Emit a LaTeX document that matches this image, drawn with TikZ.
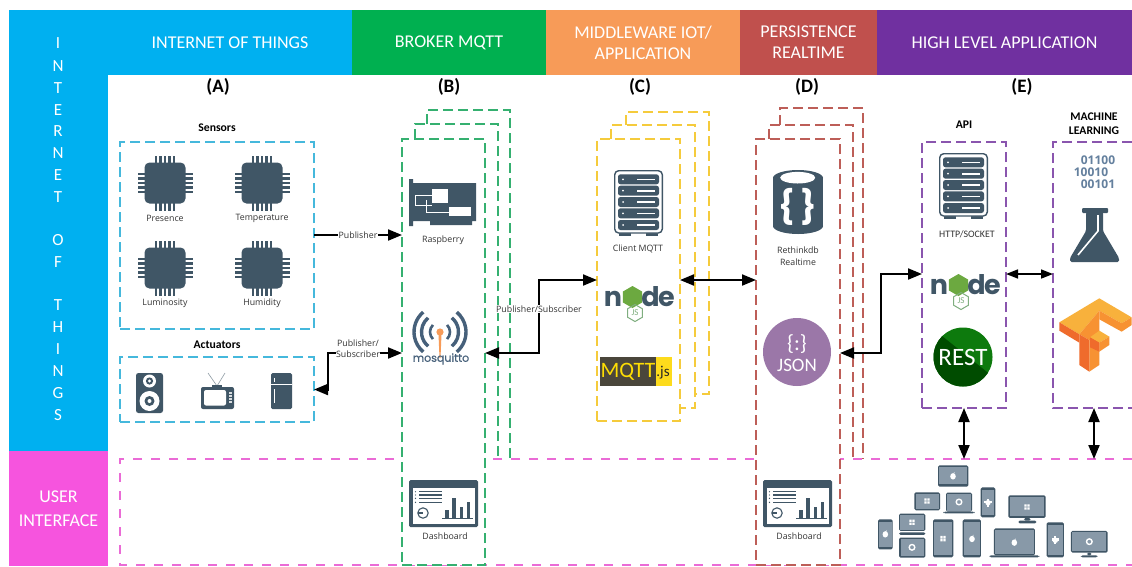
\documentclass[tikz,border=0pt]{standalone}
\usepackage{fontspec}
\setmainfont{Carlito}
\newfontfamily\lblfont{Open Sans}
\newfontfamily\mosfont{Poppins}
\usetikzlibrary{arrows.meta,calc,shapes.geometric}
\definecolor{iot}{HTML}{00B0F0}
\definecolor{ui}{HTML}{F654DE}
\definecolor{brk}{HTML}{00B050}
\definecolor{mid}{HTML}{F79B58}
\definecolor{per}{HTML}{C0504D}
\definecolor{hig}{HTML}{7030A0}
\definecolor{ink}{HTML}{405666}
\definecolor{scr}{HTML}{8899A8}
\definecolor{dIot}{HTML}{45B8DC}
\definecolor{dBrk}{HTML}{35B070}
\definecolor{dYel}{HTML}{F5CB3C}
\definecolor{dRed}{HTML}{BD5E58}
\definecolor{dPur}{HTML}{8A55AE}
\definecolor{dPnk}{HTML}{EA6BD6}
\definecolor{mosc}{HTML}{46607A}
\definecolor{binc}{HTML}{64809E}
\definecolor{jsonc}{HTML}{9B77A8}
\definecolor{tfA}{HTML}{F8B13C}
\definecolor{tfB}{HTML}{F79232}
\definecolor{tfC}{HTML}{EF6B2C}
\definecolor{nodeg}{HTML}{6CA940}
\definecolor{nodej}{HTML}{7FAE7F}
\tikzset{
  band/.style={fill=#1,draw=none,inner sep=0pt,outer sep=0pt,text=white,align=center,font=\fontsize{18}{21}\selectfont},
  dashbox/.style={draw=#1,fill=white,line width=1.2pt,dash pattern=on 10pt off 5pt,inner sep=0pt,outer sep=0pt,anchor=north west},
  stackline/.style={draw=#1,line width=1.2pt,dash pattern=on 10pt off 5pt},
  lbl/.style={font=\lblfont\fontsize{8.8}{11.5}\selectfont,text=black!80,inner sep=0pt,align=center},
  tagged/.style={lbl,fill=white,inner sep=0.6pt},
  title/.style={font=\bfseries\fontsize{11.7}{14}\selectfont,inner sep=0pt,align=center},
  letter/.style={font=\bfseries\fontsize{19}{20}\selectfont,inner sep=0pt},
  vchar/.style={text=white,font=\fontsize{17}{18}\selectfont,inner sep=0pt},
  oneway/.style={line width=2pt,-{Triangle[length=14pt,width=11pt]}},
  twoway/.style={line width=2pt,{Triangle[length=14pt,width=11pt]}-{Triangle[length=14pt,width=11pt]}},
  thinway/.style={line width=1.6pt,{Triangle[length=12pt,width=9pt]}-{Triangle[length=12pt,width=9pt]}},
}
\newcommand{\chipicon}[2]{\begin{scope}[shift={(#1,#2)}]
  \foreach \k in {-2,...,2}{
    \fill[ink] (\k*4.4-1.2,-27.5) rectangle (\k*4.4+1.2,-19);
    \fill[ink] (\k*4.4-1.2,19) rectangle (\k*4.4+1.2,27.5);
    \fill[ink] (-27.5,\k*4.4-1.2) rectangle (-19,\k*4.4+1.2);
    \fill[ink] (19,\k*4.4-1.2) rectangle (27.5,\k*4.4+1.2);
  }
  \fill[ink,rounded corners=5pt] (-20.5,-20.5) rectangle (20.5,20.5);
\end{scope}}
\newcommand{\servericon}[2]{\begin{scope}[shift={(#1,#2)}]
  \fill[ink] (5,62) rectangle (17,65.5);
  \fill[ink] (32,62) rectangle (44,65.5);
  \draw[ink,fill=white,line width=1.4pt,rounded corners=4pt] (0.7,0.7) rectangle (48.3,63);
  \foreach \c in {9.3,20.7,32,43.3,55}{
    \fill[ink,rounded corners=2.5pt] (4,\c-5) rectangle (45,\c+5);
    \fill[white] (9,\c) circle (1pt);
    \fill[white] (23,\c-0.8) rectangle (41,\c+0.8);
  }
\end{scope}}
\newcommand{\dashicon}[2]{\begin{scope}[shift={(#1,#2)}]
  \fill[ink,rounded corners=1.5pt] (0,0) rectangle (69,47);
  \fill[white] (3.5,7.5) rectangle (65.5,43.5);
  \foreach \c in {11.7,15,18.3,22.3}{
    \fill[ink] (6.5,\c) circle (0.7pt);
    \fill[ink] (10,\c-0.7) rectangle (33,\c+0.7);
  }
  \draw[ink,line width=1.1pt] (14,33) circle (5.2pt);
  \draw[ink,line width=1.1pt] (9,33) -- (14,33);
  \fill[ink] (36,30) rectangle (39.5,38.5);
  \fill[ink] (43.3,17.7) rectangle (46.6,38.5);
  \fill[ink] (50.6,27) rectangle (54,38.5);
  \fill[ink] (58,22.3) rectangle (61.3,38.5);
  \fill[ink] (33,38.3) rectangle (63.5,39.3);
\end{scope}}
\newcommand{\nodelogo}[3]{\begin{scope}[shift={(#1,#2)}]
  \node[inner sep=0pt,text=ink,font=\mosfont\bfseries\fontsize{27}{27}\selectfont,anchor=base] (#3n) at (-25,9) {n};
  \node[regular polygon,regular polygon sides=6,rotate=30,fill=nodeg,inner sep=0pt,minimum size=22pt] (#3o) at (-5.5,0) {};
  \node[inner sep=0pt,text=ink,font=\mosfont\bfseries\fontsize{27}{27}\selectfont,anchor=base] (#3d) at (12.5,9) {d};
  \node[inner sep=0pt,text=ink,font=\mosfont\bfseries\fontsize{27}{27}\selectfont,anchor=base] (#3e) at (28.5,9) {e};
  \node[regular polygon,regular polygon sides=6,rotate=30,draw=nodej,line width=1pt,inner sep=0pt,minimum size=17pt] (#3h) at (-3,16) {};
  \node[inner sep=0pt,text=nodej,font=\fontsize{9}{9}\selectfont] (#3j) at (-3,16) {JS};
\end{scope}}
\newcommand{\devbody}[4]{\fill[ink,rounded corners=1.5pt] (#1,#2) rectangle (#3,#4);}
\newcommand{\devscreen}[4]{\fill[scr] (#1,#2) rectangle (#3,#4);}
\newcommand{\winmark}[2]{\fill[white] (#1-8,#2-8) rectangle (#1-1,#2-1) (#1+1,#2-8) rectangle (#1+8,#2-1) (#1-8,#2+1) rectangle (#1-1,#2+8) (#1+1,#2+1) rectangle (#1+8,#2+8);}
\newcommand{\aplmark}[2]{\fill[white] (#1,#2+1) ellipse [x radius=2.8pt,y radius=3.2pt]; \fill[white] (#1+1,#2-8) -- (#1+5,#2-12) -- (#1+3,#2-7) -- cycle;}
\newcommand{\ringmark}[2]{\draw[white,line width=1.4pt] (#1,#2) circle (2.8pt);}
\newcommand{\drdmark}[2]{\fill[white,rounded corners=1pt] (#1-7,#2-6) rectangle (#1+7,#2+8); \fill[white] (#1-11,#2-5) rectangle (#1+11,#2+3); \fill[white] (#1-3,#2-11) rectangle (#1+3,#2+13);}
\begin{document}
\begin{tikzpicture}[x=1pt,y=-1pt]
\useasboundingbox (0,0) rectangle (1132,566);
\fill[white] (0,0) rectangle (1132,566);
% header bands
\node[band=iot,minimum width=99pt,minimum height=441pt,anchor=north west] (leftIot) at (9,10) {};
\node[band=ui,minimum width=99pt,minimum height=115pt,anchor=north west] (leftUi) at (9,451) {USER\\[3pt]INTERFACE};
\node[band=iot,minimum width=244pt,minimum height=65pt,anchor=north west] (hA) at (108,10) {INTERNET OF THINGS};
\node[band=brk,minimum width=194pt,minimum height=65pt,anchor=north west] (hB) at (352,10) {BROKER MQTT};
\node[band=mid,minimum width=194pt,minimum height=65pt,anchor=north west] (hC) at (546,10) {MIDDLEWARE IOT/\\APPLICATION};
\node[band=per,minimum width=137pt,minimum height=65pt,anchor=north west] (hD) at (740,10) {PERSISTENCE\\REALTIME};
\node[band=hig,minimum width=255pt,minimum height=65pt,anchor=north west] (hE) at (877,10) {HIGH LEVEL APPLICATION};
% vertical text
\foreach \ch/\yy/\nm in {I/43/a,N/66/b,T/88/c,E/110/d,R/131/e,N/153/f,E/175/g,T/197/h,O/240/i,F/262/j,T/305/k,H/327/l,I/349/m,N/371/n,G/393/o,S/415/p}
  \node[vchar] (v\nm) at (58,\yy) {\ch};
% column letters
\node[letter] (colA) at (218,87) {(A)};
\node[letter] (colB) at (449,87) {(B)};
\node[letter] (colC) at (640,87) {(C)};
\node[letter] (colD) at (807,87) {(D)};
\node[letter] (colE) at (1022,87) {(E)};
% user interface frame
\coordinate (uiTL) at (120,459);
\coordinate (uiBL) at (120,565);
\draw[stackline=dPnk,dash pattern=on 9pt off 9pt] (1132,459) -- (uiTL) -- (uiBL) -- (1132,565);
% back sheets
\draw[stackline=dBrk] (415,139) -- (415,124) -- (498,124) -- (498,459);
\draw[stackline=dBrk] (427,124) -- (427,110) -- (510,110) -- (510,459);
\draw[stackline=dYel] (611,139) -- (611,125) -- (695,125) -- (695,408) -- (680,408);
\draw[stackline=dYel] (626,125) -- (626,112) -- (709,112) -- (709,394) -- (695,394);
\draw[stackline=dRed] (769,139) -- (769,125) -- (853,125) -- (853,459);
\draw[stackline=dRed] (780,125) -- (780,108) -- (863,108) -- (863,459);
% front frames
\node[dashbox=dIot,minimum width=194pt,minimum height=187pt] (sensors) at (120,142) {};
\node[dashbox=dIot,minimum width=194pt,minimum height=65pt] (actuators) at (120,357) {};
\node[dashbox=dBrk,minimum width=83pt,minimum height=426pt] (broker) at (402,139) {};
\node[dashbox=dYel,minimum width=83pt,minimum height=282pt] (middle) at (597,139) {};
\node[dashbox=dRed,minimum width=84pt,minimum height=426pt] (persist) at (756,139) {};
\node[dashbox=dPur,minimum width=84pt,minimum height=266pt] (api) at (922,142) {};
\node[inner sep=0pt,outer sep=0pt,anchor=north west,minimum width=79pt,minimum height=266pt] (ml) at (1053,142) {};
\draw[stackline=dPur] (ml.north east) -- (ml.north west) -- (ml.south west) -- (ml.south east);
% titles
\node[title] (tSens) at (217,128) {Sensors};
\node[title] (tAct) at (217,345) {Actuators};
\node[title] (tApi) at (964,125) {API};
\node[title] (tMl) at (1094,124) {MACHINE\\LEARNING};
% chips
\chipicon{165}{183}\chipicon{262}{183}\chipicon{165}{268}\chipicon{262}{268}
\node[lbl] (lPres) at (165,218.5) {Presence};
\node[lbl] (lTemp) at (262,218.5) {Temperature};
\node[lbl] (lLum) at (165,303.5) {Luminosity};
\node[lbl] (lHum) at (262,303.5) {Humidity};
% speaker
\fill[ink,rounded corners=2.5pt] (136,373) rectangle (163,413);
\fill[white] (149.5,381) circle (6.5pt); \fill[ink] (149.5,381) circle (3.6pt); \fill[white] (149.5,381) circle (1.6pt);
\fill[white] (149.5,401) circle (10pt); \fill[ink] (149.5,401) circle (5pt); \fill[white] (149.5,401) circle (2pt);
% tv
\draw[ink!60,line width=0.6pt] (217,386) -- (208,373) (217,386) -- (225,373);
\fill[ink] (212,385) rectangle (222,388);
\fill[ink,rounded corners=2pt] (201,387) rectangle (234,409);
\fill[white,rounded corners=2pt] (204,390) rectangle (226,405.5);
\foreach \c in {393,396,399,402} \fill[white!80!ink] (228.5,\c-1) rectangle (231.5,\c+1);
% fridge
\fill[ink,rounded corners=1.5pt] (271,373) rectangle (292,409);
\fill[white] (271,383.5) rectangle (292,384.5);
\fill[white] (273.5,378) rectangle (275,382);
\fill[white] (273.5,389) rectangle (275,403);
% raspberry card
\fill[ink] (409,179) -- (413,179) -- (413,183) -- (476,183) -- (476,221) -- (472,221) -- (472,225) -- (430,225) -- (430,221) -- (413,221) -- (413,226) -- (409,226) -- cycle;
\fill[white] (432,189) rectangle (448,203);
\fill[white] (449,207) rectangle (471,216);
\draw[white,line width=0.8pt] (415,195) -- (432,195) (415,195) -- (415,205) -- (432,205) (426,200) -- (426,212) -- (449,212);
\node[lbl] (lRasp) at (443,240) {Raspberry};
% mosquitto
\begin{scope}[shift={(440,332)}]
  \foreach \r in {26,18.5}{
    \draw[mosc,line width=3.4pt] ([shift={(130:\r pt)}]0,0) arc[start angle=130,end angle=230,radius=\r pt];
    \draw[mosc,line width=3.4pt] ([shift={(-50:\r pt)}]0,0) arc[start angle=-50,end angle=50,radius=\r pt];
  }
  \draw[mosc,line width=2.6pt] ([shift={(135:10pt)}]0,0) arc[start angle=135,end angle=225,radius=10pt];
  \draw[mosc,line width=2.6pt] ([shift={(-45:10pt)}]0,0) arc[start angle=-45,end angle=45,radius=10pt];
  \fill[mid] (-1.6,0) -- (1.6,0) -- (0.5,26) -- (-0.5,26) -- cycle;
  \fill[mid] (0,0) circle (3.6pt);
\end{scope}
\node[inner sep=0pt,text=mosc,font=\mosfont\fontsize{11}{12}\selectfont] (lMos) at (441,359) {\addfontfeature{FakeBold=0.6}mosquitto};
% dashboards
\dashicon{409}{480}\dashicon{763}{480}
\node[lbl] (lDash1) at (445,536) {Dashboard};
\node[lbl] (lDash2) at (799,536) {Dashboard};
% client mqtt
\servericon{614}{170}
\node[lbl] (lClient) at (638,249) {Client MQTT};
\nodelogo{638}{297}{nA}
\fill[black!82!yellow] (600,357) rectangle (656,386);
\fill[yellow!75!orange!90!white] (656,357) rectangle (672,386);
\node[inner sep=0pt,text=yellow!80!orange,font=\fontsize{22}{22}\selectfont,anchor=center] (mqttA) at (628,372) {MQTT};
\node[inner sep=0pt,text=black!85,font=\fontsize{15}{15}\selectfont,anchor=center] (mqttB) at (663,373) {.js};
% database
\fill[ink] (798,178) ellipse [x radius=25pt,y radius=8pt];
\fill[ink] (798,226) ellipse [x radius=25pt,y radius=8pt];
\fill[ink] (773,178) rectangle (823,226);
\fill[white] (797.7,177.7) ellipse [x radius=17.5pt,y radius=5.8pt];
\node[inner sep=0pt,text=white,font=\mosfont\bfseries\fontsize{33}{33}\selectfont] (lBr) at (798,207) {\{\,\}};
\node[lbl] (lDb) at (798,256) {Rethinkdb\\Realtime};
% json
\fill[jsonc] (797,352) circle (34pt);
\node[inner sep=0pt,text=white,font=\fontsize{22}{22}\selectfont] (lBrace) at (797,344) {\{:\}};
\node[inner sep=0pt,text=white,font=\fontsize{19}{19}\selectfont] (lJson) at (797,365) {JSON};
% api column
\servericon{939}{153}
\node[lbl,font=\fontsize{9.9}{11}\selectfont] (lHttp) at (967,234) {HTTP/SOCKET};
\nodelogo{964}{285}{nB}
\begin{scope}
  \clip (963,357) circle (29.5pt);
  \fill[green!45!black!95!white] (930,325) rectangle (995,390);
  \fill[green!30!black] (930,325) -- (942,336) -- (992,376) -- (992,392) -- (930,392) -- cycle;
\end{scope}
\node[inner sep=0pt,text=white,font=\fontsize{25}{25}\selectfont] (lRest) at (963,357) {REST};
% machine learning column
\node[inner sep=0pt,font=\lblfont\bfseries\fontsize{12}{12}\selectfont,text=binc] (b1) at (1098,160) {01100};
\node[inner sep=0pt,font=\lblfont\bfseries\fontsize{12}{12}\selectfont,text=binc] (b2) at (1091,172) {10010};
\node[inner sep=0pt,font=\lblfont\bfseries\fontsize{12}{12}\selectfont,text=binc] (b3) at (1098,184) {00101};
% flask
\fill[ink,rounded corners=1pt] (1082,208) rectangle (1108,213);
\fill[ink,rounded corners=1.5pt] (1086,212) -- (1103,212) -- (1103,231) -- (1119,258) -- (1119,262) -- (1070,262) -- (1070,258) -- (1086,231) -- cycle;
\draw[white,line width=1.6pt] (1098,215) -- (1098,231) -- (1078,255);
% tensorflow
\begin{scope}[shift={(1050,290)},x=0.3333pt,y=-0.3333pt]
  \fill[tfA] (28,97) -- (148,25) -- (245,82) -- (215,100) -- (148,62) -- (88,133) -- cycle;
  \fill[tfB] (148,62) -- (215,100) -- (245,82) -- (245,105) -- (215,125) -- (148,88) -- cycle;
  \fill[tfC] (28,97) -- (28,122) -- (88,158) -- (88,133) -- cycle;
  \fill[tfB] (88,133) -- (148,62) -- (148,225) -- (118,245) -- (118,150) -- cycle;
  \fill[tfC] (88,133) -- (88,225) -- (118,245) -- (118,150) -- cycle;
  \fill[tfA] (148,122) -- (178,140) -- (148,158) -- (120,142) -- cycle;
  \fill[tfB] (178,140) -- (178,165) -- (148,185) -- (148,158) -- cycle;
  \fill[tfC] (120,142) -- (120,172) -- (148,185) -- (148,158) -- cycle;
\end{scope}
% device cluster
\begin{scope}[shift={(850,400)},x=0.3333pt,y=-0.3333pt]
  \devbody{264}{196}{355}{260}\devscreen{268}{200}{351}{253}\aplmark{309}{228}
  \devbody{193}{277}{270}{331}\devscreen{197}{281}{266}{326}\winmark{231}{303}
  \devbody{288}{278}{366}{335}\devscreen{292}{282}{362}{332}\devbody{280}{335}{374}{340}\ringmark{327}{306}
  \devbody{392}{262}{436}{352}\devscreen{395}{270}{433}{344}\drdmark{414}{307}
  \devbody{475}{286}{587}{354}\devscreen{480}{292}{582}{349}\devbody{522}{354}{542}{362}\devbody{505}{362}{560}{370}\winmark{531}{321}
  \devbody{84}{358}{128}{448}\devscreen{87}{366}{125}{440}\aplmark{106}{402}
  \devbody{147}{341}{226}{393}\devscreen{151}{345}{222}{389}\devbody{147}{397}{226}{405}\winmark{186}{367}
  \devbody{147}{413}{226}{473}\devscreen{152}{418}{221}{468}\ringmark{186}{442}
  \devbody{249}{358}{310}{472}\devscreen{252}{366}{307}{464}\winmark{279}{416}
  \devbody{338}{358}{393}{472}\devscreen{341}{366}{390}{464}\aplmark{366}{416}
  \devbody{432}{385}{555}{466}\devscreen{436}{389}{551}{463}\devbody{418}{466}{568}{472}\aplmark{493}{427}
  \devbody{590}{367}{642}{472}\devscreen{593}{375}{639}{464}\drdmark{616}{420}
  \devbody{663}{393}{773}{458}\devscreen{667}{397}{769}{454}\devbody{711}{458}{725}{466}\devbody{693}{466}{743}{472}\ringmark{718}{425}
\end{scope}
% connectors
\coordinate (yPub) at (0,235);
\coordinate (yMos) at (0,353);
\coordinate (yMid) at (0,280);
\coordinate (yApi) at (0,274);
\coordinate (elbowAct) at (328,389.5);
\coordinate (elbowAct2) at (328,353);
\coordinate (elbowMidA) at (539,353);
\coordinate (elbowMidB) at (539,280);
\coordinate (elbowApiA) at (881,353);
\coordinate (elbowApiB) at (881,274);
\coordinate (uiApi) at (964,459);
\coordinate (uiMl) at (1094,459);
\draw[oneway] (sensors.east |- yPub) -- (broker.west |- yPub);
\draw[twoway] (actuators.east) -- (elbowAct) -- (elbowAct2) -- (broker.west |- yMos);
\draw[twoway] (broker.east |- yMos) -- (elbowMidA) -- (elbowMidB) -- (middle.west |- yMid);
\draw[twoway] (middle.east |- yMid) -- (persist.west |- yMid);
\draw[twoway] (persist.east |- yMos) -- (elbowApiA) -- (elbowApiB) -- (api.west |- yApi);
\draw[thinway] (api.east |- yApi) -- (ml.west |- yApi);
\draw[twoway] (api.south) -- (uiApi);
\draw[twoway] (ml.south -| uiMl) -- (uiMl);
% connector labels
\node[tagged] (lPub) at (358,235) {Publisher};
\node[tagged] (lPubSub) at (358,348.5) {Publisher/\\Subscriber};
\node[tagged] (lPubSub2) at (539,309) {Publisher/Subscriber};
\end{tikzpicture}
\end{document}
